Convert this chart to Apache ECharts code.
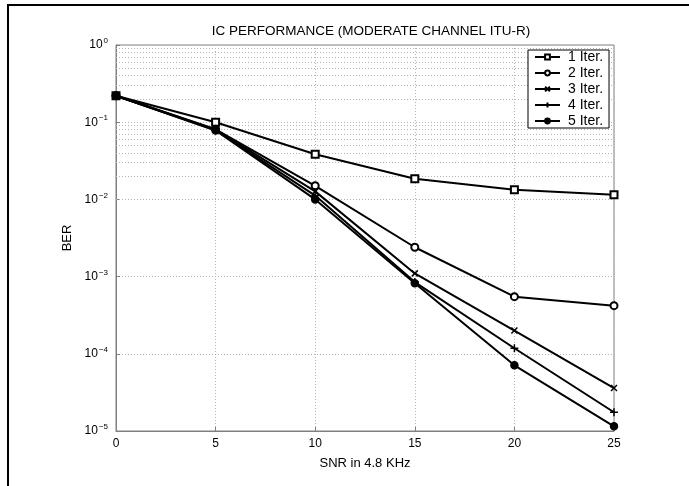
<!DOCTYPE html>
<html>
<head>
<meta charset="utf-8">
<script src="https://cdn.jsdelivr.net/npm/echarts@6/dist/echarts.min.js"></script>
<style>
  html, body { margin: 0; padding: 0; background: #fff; }
  #chart { width: 689px; height: 486px; }
</style>
</head>
<body>
<div id="chart"></div>
<script>
// SNR values (x axis)
const snr = [0, 5, 10, 15, 20, 25]
const seriesNames = ['1 Iter.', '2 Iter.', '3 Iter.', '4 Iter.', '5 Iter.']
// BER
const iter1 = [0.22, 0.100, 0.0385, 0.0185, 0.0133, 0.0115]
const iter2 = [0.22, 0.081, 0.0150, 0.0024, 0.00055, 0.00042]
const iter3 = [0.22, 0.080, 0.0127, 0.00110, 0.00020, 0.000036]
const iter4 = [0.22, 0.079, 0.0112, 0.00085, 0.000118, 0.0000175]
const iter5 = [0.22, 0.078, 0.0100, 0.00082, 0.000071, 0.0000115]
const xTicks = [0, 5, 10, 15, 20, 25]
const yDecades = [-5, -4, -3, -2, -1, 0]

const font = 'Liberation Sans, Arial, Helvetica, sans-serif'
const gridGray = '#b4b4b4'
const axisGray = '#808080'

// minor log grid lines (2..9 x 10^k)
const minorLines = []
yDecades.slice(0, -1).forEach(k => {
  for (let m = 2; m <= 9; m++) minorLines.push({ yAxis: m * Math.pow(10, k) })
})

const xMark = 'path://M0,0L10,10M10,0L0,10'
const plusMark = 'path://M5,0L5,10M0,5L10,5'

function mk (name, data, symbol, size) {
  return {
    name: name,
    type: 'line',
    data: snr.map((x, i) => [x, data[i]]),
    symbol: symbol,
    symbolSize: size,
    showAllSymbol: true,
    color: '#000',
    lineStyle: { color: '#000', width: 2 },
    itemStyle: { color: '#000', borderColor: '#000', borderWidth: 1.5 },
    emphasis: { disabled: true },
    z: 3
  }
}

const series = [
  mk(seriesNames[0], iter1, 'emptyRect', 7),
  mk(seriesNames[1], iter2, 'emptyCircle', 7),
  mk(seriesNames[2], iter3, xMark, 6),
  mk(seriesNames[3], iter4, plusMark, 8),
  mk(seriesNames[4], iter5, 'circle', 7)
]
series[0].markLine = {
  silent: true,
  symbol: 'none',
  label: { show: false },
  lineStyle: { color: gridGray, type: [1, 2], width: 1 },
  data: minorLines,
  z: 1
}

const chart = echarts.init(document.getElementById('chart'))
chart.setOption({
  animation: false,
  backgroundColor: '#fff',
  textStyle: { fontFamily: font },
  title: {
    text: 'IC PERFORMANCE (MODERATE CHANNEL ITU-R)',
    left: 366,
    textAlign: 'center',
    top: 19,
    textStyle: { fontSize: 13.5, fontWeight: 'normal', color: '#000', fontFamily: font }
  },
  legend: {
    data: seriesNames,
    orient: 'vertical',
    left: 528,
    top: 50,
    padding: [0, 6, 0, 6],
    itemGap: 2,
    itemWidth: 25,
    itemHeight: 6,
    backgroundColor: '#fff',
    borderColor: '#000',
    borderWidth: 1,
    textStyle: { fontSize: 14, lineHeight: 12, color: '#000', fontFamily: font, padding: [0, 0, 0, 3] }
  },
  grid: {
    left: 116,
    right: 75,
    top: 45,
    bottom: 55,
    show: true,
    borderColor: axisGray,
    borderWidth: 1
  },
  xAxis: {
    type: 'value',
    min: xTicks[0],
    max: xTicks[xTicks.length - 1],
    interval: 5,
    name: 'SNR in 4.8 KHz',
    nameLocation: 'middle',
    nameGap: 26,
    nameTextStyle: { fontSize: 13, color: '#000' },
    axisLine: { lineStyle: { color: axisGray } },
    axisTick: { inside: true, length: 4, lineStyle: { color: axisGray } },
    axisLabel: { fontSize: 12, color: '#000', margin: 7 },
    splitLine: { show: true, lineStyle: { color: gridGray, type: [1, 2] } }
  },
  yAxis: {
    type: 'log',
    logBase: 10,
    min: Math.pow(10, yDecades[0]),
    max: Math.pow(10, yDecades[yDecades.length - 1]),
    name: 'BER',
    nameLocation: 'middle',
    nameGap: 36,
    nameTextStyle: { fontSize: 13, color: '#000' },
    axisLine: { lineStyle: { color: axisGray } },
    axisTick: { inside: true, length: 4, lineStyle: { color: axisGray } },
    axisLabel: {
      margin: 8,
      formatter: v => {
        const e = Math.round(Math.log10(v))
        return '{b|10}{s|' + (e < 0 ? '\u2212' + (-e) : e) + '}'
      },
      rich: {
        b: { fontSize: 12, color: '#000', fontFamily: font },
        s: { fontSize: 8, color: '#000', fontFamily: font, padding: [0, 0, 8, 1] }
      }
    },
    splitLine: { show: true, lineStyle: { color: gridGray, type: [1, 2] } }
  },
  graphic: [{
    type: 'rect',
    silent: true,
    shape: { x: 8, y: 5, width: 720, height: 520 },
    style: { fill: 'none', stroke: '#000', lineWidth: 2 }
  }],
  series: series
})
</script>
</body>
</html>
